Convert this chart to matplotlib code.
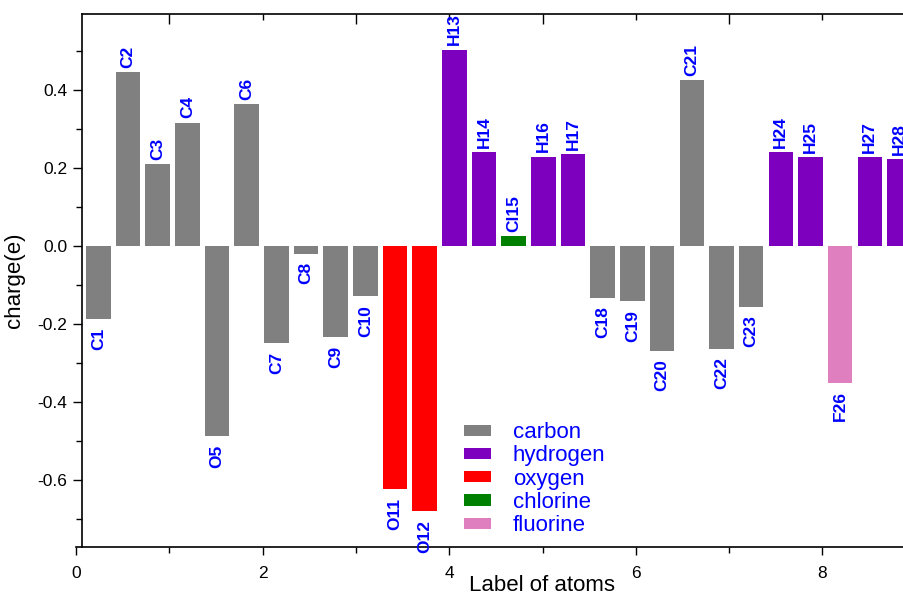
import matplotlib.pyplot as plt
import numpy as np
from matplotlib.patches import Patch

plt.rcParams['font.family'] = ['Liberation Sans', 'DejaVu Sans']
plt.rcParams['axes.unicode_minus'] = False

atoms = ['C1', 'C2', 'C3', 'C4', 'O5', 'C6', 'C7', 'C8', 'C9', 'C10',
         'O11', 'O12', 'H13', 'H14', 'Cl15', 'H16', 'H17', 'C18', 'C19', 'C20',
         'C21', 'C22', 'C23', 'H24', 'H25', 'F26', 'H27', 'H28']
charges = [-0.188, 0.445, 0.209, 0.316, -0.488, 0.364, -0.249, -0.020, -0.234, -0.129,
           -0.623, -0.680, 0.503, 0.240, 0.026, 0.229, 0.236, -0.134, -0.142, -0.269,
           0.424, -0.264, -0.156, 0.241, 0.227, -0.350, 0.227, 0.223]
# colour group of each bar (O5 is drawn in the carbon colour in the original)
groups = ['carbon'] * 10 + ['oxygen', 'oxygen', 'hydrogen', 'hydrogen', 'chlorine',
          'hydrogen', 'hydrogen', 'carbon', 'carbon', 'carbon', 'carbon', 'carbon',
          'carbon', 'hydrogen', 'hydrogen', 'fluorine', 'hydrogen', 'hydrogen']
legend_names = ['carbon', 'hydrogen', 'oxygen', 'chlorine', 'fluorine']
colors = {'carbon': '#808080', 'hydrogen': '#7D00BE', 'oxygen': '#FF0000',
          'chlorine': '#008000', 'fluorine': '#E07FC0'}

x = 0.24 + 0.318 * np.arange(len(atoms))

fig = plt.figure(figsize=(9.04, 5.94), dpi=100)
ax = fig.add_axes([76 / 904, 47 / 594, 828 / 904, 533 / 594])

ax.bar(x, charges, width=0.264, color=[colors[g] for g in groups], edgecolor='none')

for xi, q, name in zip(x, charges, atoms):
    if q >= 0:
        ax.annotate(name, (xi, q), xytext=(0, 3), textcoords='offset points',
                    rotation=90, ha='center', va='bottom', color='#0000FF',
                    fontsize=12.5, fontweight='bold', annotation_clip=False)
    else:
        ax.annotate(name, (xi, q), xytext=(0, -6), textcoords='offset points',
                    rotation=90, ha='center', va='top', color='#0000FF',
                    fontsize=12.5, fontweight='bold', annotation_clip=False)

ax.set_xlim(0, 8.874)
ax.set_ylim(-0.771, 0.594)

ax.spines['right'].set_visible(False)
ax.spines['left'].set_position(('data', 0.064))
ax.spines['top'].set_bounds(0.064, 8.874)
for s in ['left', 'top', 'bottom']:
    ax.spines[s].set_linewidth(1.2)

ax.set_xticks([0, 2, 4, 6, 8])
ax.set_xticks([1, 3, 5, 7], minor=True)
ax.set_yticks([-0.6, -0.4, -0.2, 0.0, 0.2, 0.4])
ax.set_yticks([-0.7, -0.5, -0.3, -0.1, 0.1, 0.3, 0.5], minor=True)
ax.set_yticklabels(['-0.6', '-0.4', '-0.2', '0.0', '0.2', '0.4'])
ax.tick_params(axis='x', which='major', direction='out', length=6, width=1, labelsize=12.5, pad=8)
ax.tick_params(axis='x', which='minor', direction='out', length=4, width=1)
ax.tick_params(axis='y', which='major', direction='out', length=6.5, width=1, labelsize=12.5, pad=4)
ax.tick_params(axis='y', which='minor', direction='out', length=4, width=1)

top = ax.secondary_xaxis('top')
top.set_xticks([1, 3, 5, 7])
top.set_xticks([2, 4, 6, 8], minor=True)
top.tick_params(which='major', direction='in', length=7, width=1, labeltop=False)
top.tick_params(which='minor', direction='in', length=4, width=1)
top.spines['top'].set_visible(False)

ax.set_xlabel('Label of atoms', fontsize=16, va='top')
ax.xaxis.set_label_coords(0.563, -0.052)
ax.set_ylabel('charge(e)', fontsize=16)
ax.yaxis.set_label_coords(-0.062, 0.5)

handles = [Patch(facecolor=colors[n], edgecolor='none') for n in legend_names]
ax.legend(handles, legend_names, loc='upper left', bbox_to_anchor=(0.455, 0.255),
          frameon=False, fontsize=16, labelcolor='#0000FF', handlelength=1.2,
          handleheight=0.4, handletextpad=1.0, labelspacing=0.1, borderpad=0)

plt.savefig('out.png', dpi=100)
